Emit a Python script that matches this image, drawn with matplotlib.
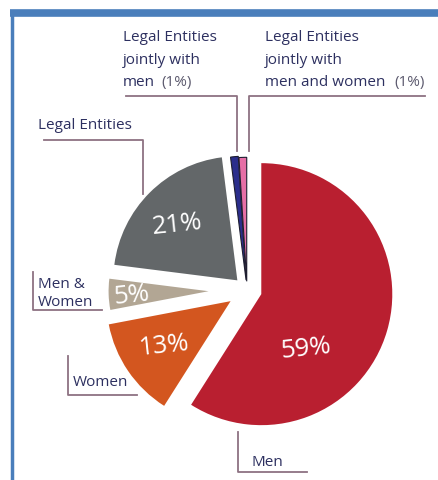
import numpy as np
import matplotlib.pyplot as plt

# ownership shares, clockwise from 12 o'clock
categories = ['Men', 'Women', 'Men & Women', 'Legal Entities',
              'Legal Entities jointly with men',
              'Legal Entities jointly with men and women']
shares = [59, 13, 5, 21, 1, 1]
pct_labels = ['59%', '13%', '5%', '21%']

colors = ['#b91f30', '#d3561f', '#b2a694', '#636769', '#2b2e8c', '#e66fa6']
explode = [0.12, 0.16, 0.31, 0.11, 0.08, 0.07]

W, H = 439, 481
PX = 124.0          # pixels per data unit (pie radius)
CX, CY = 247, 291   # pie centre in pixels (from top-left)

plt.rcParams['font.family'] = ['Open Sans', 'DejaVu Sans']

fig = plt.figure(figsize=(W / 100, H / 100), dpi=100)
ax = fig.add_axes([0, 0, 1, 1])

wedges, _ = ax.pie(shares, colors=colors, explode=explode, startangle=90,
                   counterclock=False, radius=1.0,
                   wedgeprops=dict(linewidth=0))
wedges[0].set_radius(131 / PX)
wedges[2].set_radius(100 / PX)
for w in wedges[4:]:
    w.set_edgecolor('#1e1e30')
    w.set_linewidth(0.8)

ax.set_xlim(-CX / PX, (W - CX) / PX)
ax.set_ylim(-(H - CY) / PX, CY / PX)
ax.set_aspect('equal')
ax.axis('off')


def fx(x):
    return x / W


def fy(y):
    return 1 - y / H


# blue frame on top and left
fig.add_artist(plt.Line2D([fx(10), fx(439)], [fy(13.5), fy(13.5)],
                          color='#4a7ebb', lw=5.5, solid_capstyle='butt'))
fig.add_artist(plt.Line2D([fx(11.5), fx(11.5)], [fy(11), fy(481)],
                          color='#4a7ebb', lw=2.5, solid_capstyle='butt'))

# percentage labels inside slices
pct_pos = [(306, 349), (164, 346), (132, 296), (177, 225)]
for txt, (x, y) in zip(pct_labels, pct_pos):
    fig.text(fx(x), fy(y), txt, color='white', fontsize=18.5, rotation=6,
             ha='center', va='center')

# leader lines
lc = '#8e7282'
leaders = [
    [(126, 97), (237, 97), (237, 152)],
    [(249, 152), (249, 97), (425, 97)],
    [(44, 141), (143, 141), (143, 195)],
    [(33, 273), (33, 311), (102, 311)],
    [(68, 357), (68, 396), (137, 396)],
    [(238, 433), (238, 473), (307, 473)],
]
for pts in leaders:
    xs = [fx(p[0]) for p in pts]
    ys = [fy(p[1]) for p in pts]
    fig.add_artist(plt.Line2D(xs, ys, color=lc, lw=1.3))

tc = '#2d3060'
gc = '#5c5a6e'
fs = 11


def line(x, y, s, c=tc):
    fig.text(fx(x), fy(y), s, color=c, fontsize=fs, va='baseline')


for x, last, pct_x in [(123, 'men', 161), (265, 'men and women', 394)]:
    line(x, 41, 'Legal Entities')
    line(x, 63.5, 'jointly with')
    line(x, 86, last)
    line(pct_x, 86, '(1%)', gc)

line(38, 129, 'Legal Entities')
line(38, 288, 'Men &')
line(38, 306, 'Women')
line(73, 386, 'Women')
line(252, 466, 'Men')

plt.savefig('out.png', dpi=100)
